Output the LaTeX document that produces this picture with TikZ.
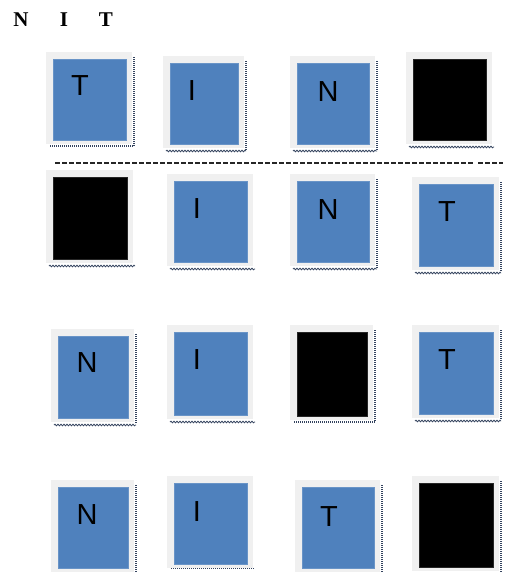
\documentclass[tikz,border=0pt]{standalone}
\usepackage{fontspec}
\setmainfont{Liberation Serif}
\newfontfamily\tilefont{Liberation Sans}
\usetikzlibrary{decorations.pathmorphing}
\definecolor{tileblue}{HTML}{4F81BD}
\definecolor{framegray}{HTML}{F0F0F0}
\definecolor{shadowc}{HTML}{34435E}
\tikzset{
  framebox/.style={draw=none,fill=framegray,inner sep=0pt,outer sep=0pt,anchor=north west},
  innerbox/.style={draw=#1!85!white,line width=0.5pt,fill=#1,inner sep=0pt,outer sep=0pt,anchor=north west},
  letter/.style={font=\tilefont\fontsize{29}{29}\selectfont,text=black,inner sep=0pt},
  head/.style={font=\fontsize{21}{21}\selectfont\bfseries,inner sep=0pt},
  rdot/.style={draw=shadowc,line width=1.3pt,dash pattern=on 1pt off 1pt},
  bwave/.style={draw=shadowc,line width=0.8pt,decorate,decoration={snake,segment length=3pt,amplitude=0.8pt}},
  bdot/.style={draw=shadowc,line width=1.3pt,dash pattern=on 1pt off 1pt},
  sepline/.style={draw=black!85,line width=1.3pt,dash pattern=on 5pt off 2pt}
}
% name, x1, y1, x2, y2, colour, letter, letter x, letter y
\newcommand\mytile[9]{%
  \node[framebox,minimum width={#4-#2+13},minimum height={#5-#3+11}] (#1o) at (#2-7,#3-7) {};
  \node[innerbox=#6,minimum width={#4-#2},minimum height={#5-#3}] (#1) at (#2,#3) {};
  \node[letter] (#1l) at (#8,#9) {#7};
}
\begin{document}
\begin{tikzpicture}[x=1pt,y=-1pt]
\useasboundingbox (0,0) rectangle (506,573);
% header
\node[head] (hN) at (21,20) {N};
\node[head] (hI) at (64,20) {I};
\node[head] (hT) at (106,20) {T};
% row 1
\mytile{a1}{53}{59}{126}{140}{tileblue}{T}{80}{86}
\mytile{a2}{170}{63}{238}{144}{tileblue}{I}{192}{91}
\mytile{a3}{297}{63}{369}{144}{tileblue}{N}{328}{92}
\mytile{a4}{413}{59}{486}{140}{black}{}{450}{100}
% separator
\coordinate (s1) at (55,163);
\coordinate (s2) at (473,163);
\coordinate (s3) at (478,163);
\coordinate (s4) at (503,163);
\draw[sepline] (s1) -- (s2);
\draw[sepline] (s3) -- (s4);
% row 2
\mytile{b1}{53}{177}{127}{259}{black}{}{90}{218}
\mytile{b2}{174}{181}{247}{262}{tileblue}{I}{197}{209}
\mytile{b3}{297}{181}{369}{262}{tileblue}{N}{328}{210}
\mytile{b4}{419}{184}{493}{266}{tileblue}{T}{447}{212}
% row 3
\mytile{c1}{58}{336}{128}{418}{tileblue}{N}{87}{363}
\mytile{c2}{174}{332}{247}{415}{tileblue}{I}{197}{360}
\mytile{c3}{297}{332}{367}{416}{black}{}{332}{374}
\mytile{c4}{419}{332}{493}{414}{tileblue}{T}{447}{360}
% row 4
\mytile{d1}{58}{487}{128}{568}{tileblue}{N}{87}{515}
\mytile{d2}{174}{483}{247}{564}{tileblue}{I}{197}{512}
\mytile{d3}{302}{487}{374}{568}{tileblue}{T}{329}{517}
\mytile{d4}{419}{483}{493}{567}{black}{}{456}{525}
% shadows: right dotted edges
\foreach \t in {a1,a2,a3,b3,b4,c1,c3,c4,d1,d3,d4}{
  \draw[rdot] ([xshift=2pt,yshift=-5pt]\t o.north east) -- ([xshift=2pt,yshift=-2pt]\t o.south east);
}
% shadows: bottom wavy edges
\foreach \t in {a2,a3,a4,b1,b2,b3,b4,c1,c2,c4}{
  \draw[bwave] ([xshift=3pt,yshift=-3pt]\t o.south west) -- ([xshift=2pt,yshift=-3pt]\t o.south east);
}
% shadows: bottom dotted edges
\foreach \t in {a1,c3}{
  \draw[bdot] ([xshift=4pt,yshift=-2pt]\t o.south west) -- ([xshift=2pt,yshift=-2pt]\t o.south east);
}
\draw[bdot] ([xshift=4pt,yshift=-0.5pt]d2o.south west) -- ([xshift=2pt,yshift=-0.5pt]d2o.south east);
\end{tikzpicture}
\end{document}
